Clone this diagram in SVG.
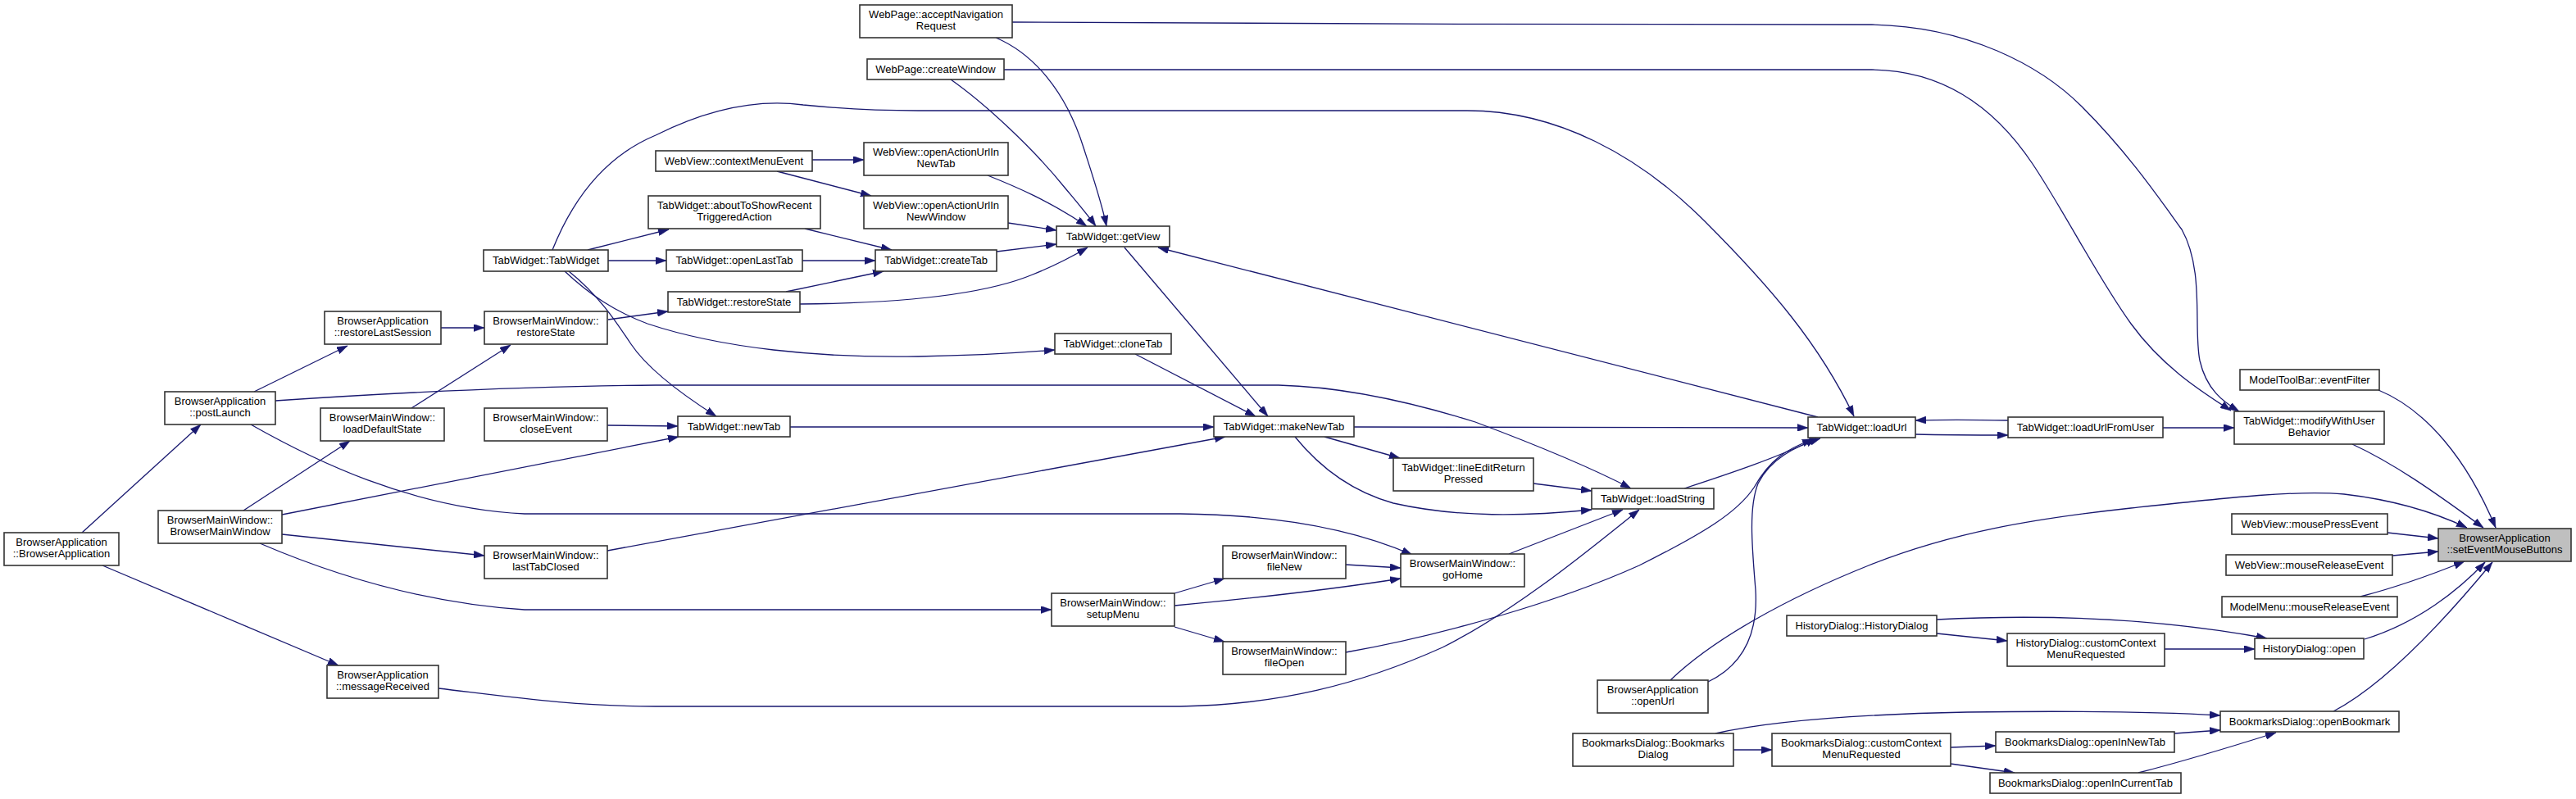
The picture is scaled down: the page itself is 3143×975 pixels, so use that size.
<svg xmlns="http://www.w3.org/2000/svg" width="3143" height="975" viewBox="0 0 3143 975">
<style>
.node rect{fill:#ffffff;stroke:#333333;stroke-width:1.6}
.node.root rect{fill:#bfbfbf}
.node text{font-family:"Liberation Sans",Arial,sans-serif;font-size:13px;fill:#000000;text-anchor:middle}
#edges path{fill:none;stroke:#191970;stroke-width:1.3;marker-end:url(#arr)}
</style>
<defs>
<marker id="arr" markerUnits="userSpaceOnUse" viewBox="0 0 13 9" markerWidth="13" markerHeight="9" refX="13" refY="4.5" orient="auto">
<path d="M0,0 L13,4.5 L0,9 z" fill="#191970" stroke="#191970" stroke-width="0.5"/>
</marker>
</defs>
<rect x="0" y="0" width="3143" height="975" fill="#ffffff"/>
<g id="edges">
<path d="M1235,27 C1400,29 2000,30 2284,30 C2400,32 2490,80 2540,130 C2600,190 2640,250 2662,280 C2690,330 2676,400 2684,440 C2692,475 2712,490 2732,502"/>
<path d="M1225,85 L2284,85 C2380,86 2440,140 2480,200 C2520,260 2560,340 2600,395 C2640,450 2690,480 2722,501"/>
<path d="M674,305 C700,240 740,190 800,165 C860,135 920,120 980,128 C1040,134 1080,135 1120,135 L1790,135 C1900,135 2000,190 2080,270 C2160,350 2220,420 2262,508"/>
<path d="M2218,509 L1413,302"/>
<path d="M1372,302 L1547,508"/>
<path d="M1385,432 L1532,508"/>
<path d="M1215,46 C1260,65 1300,110 1322,180 C1335,220 1345,250 1350,276"/>
<path d="M1160,97 C1200,125 1260,180 1300,230 C1315,248 1327,262 1337,276"/>
<path d="M1205,214 C1240,228 1280,245 1326,276"/>
<path d="M1230,272 L1289,281"/>
<path d="M1216,307 L1289,298"/>
<path d="M976,371 C1100,370 1200,360 1260,335 C1290,323 1310,312 1327,302"/>
<path d="M959,356 L1078,331"/>
<path d="M979,318 L1068,318"/>
<path d="M982,279 L1088,305"/>
<path d="M991,195 L1054,195"/>
<path d="M948,209 L1063,239"/>
<path d="M717,305 L816,280"/>
<path d="M742,318 L813,318"/>
<path d="M742,390 L815,380"/>
<path d="M689,331 C720,360 750,380 790,395 C880,425 1000,437 1120,435 C1180,434 1240,431 1287,427"/>
<path d="M694,331 C730,360 750,390 770,420 C790,450 830,480 874,508"/>
<path d="M538,400 L591,400"/>
<path d="M310,478 L424,422"/>
<path d="M502,498 L623,421"/>
<path d="M336,489 C500,478 650,471 800,470 L1560,470 C1640,472 1720,490 1800,515 C1880,545 1940,570 1990,596"/>
<path d="M306,518 C380,560 500,620 640,627 L1440,627 C1560,628 1650,645 1723,677"/>
<path d="M100,650 L245,518"/>
<path d="M125,690 L413,812"/>
<path d="M535,840 C620,850 700,862 800,862 L1440,862 C1560,860 1660,835 1760,790 C1850,745 1940,670 2000,622"/>
<path d="M297,623 L427,538"/>
<path d="M344,628 L828,533"/>
<path d="M344,652 L591,678"/>
<path d="M317,663 C380,690 500,735 640,744 L1283,744"/>
<path d="M741,519 L827,520"/>
<path d="M741,672 L1495,533"/>
<path d="M964,521 L1481,521"/>
<path d="M1652,521 L2206,522"/>
<path d="M1616,533 L1708,559"/>
<path d="M1580,533 C1610,570 1650,600 1700,614 C1780,632 1860,630 1942,622"/>
<path d="M1871,590 L1942,599"/>
<path d="M2055,596 C2110,578 2170,558 2216,535"/>
<path d="M1841,676 L1980,622"/>
<path d="M2084,832 C2130,810 2145,770 2142,720 C2138,670 2133,620 2145,590 C2160,560 2190,545 2221,535"/>
<path d="M1642,796 C1760,775 1900,735 2000,690 C2080,650 2120,625 2140,595 C2160,560 2180,548 2212,536"/>
<path d="M1433,724 L1494,706"/>
<path d="M1433,765 L1494,783"/>
<path d="M1433,739 C1530,730 1620,720 1709,706"/>
<path d="M1642,689 L1709,693"/>
<path d="M2038,830 C2090,780 2180,730 2280,690 C2380,650 2480,633 2600,620 C2720,607 2800,598 2860,603 C2920,610 2970,625 3010,644"/>
<path d="M2870,542 C2920,565 2970,600 3030,644"/>
<path d="M2902,476 C2960,500 3010,560 3045,644"/>
<path d="M2913,650 L2975,657"/>
<path d="M2919,678 L2975,673"/>
<path d="M2880,728 C2930,715 2970,700 3007,685"/>
<path d="M2885,780 C2950,760 3000,720 3032,686"/>
<path d="M2847,868 C2910,835 2980,760 3041,686"/>
<path d="M2363,773 L2449,782"/>
<path d="M2363,756 C2480,750 2620,752 2766,779"/>
<path d="M2641,792 L2751,792"/>
<path d="M2115,915 L2162,915"/>
<path d="M2093,895 C2150,882 2250,872 2400,869 C2550,867 2640,869 2709,873"/>
<path d="M2380,912 L2435,910"/>
<path d="M2380,932 L2458,943"/>
<path d="M2653,895 L2709,891"/>
<path d="M2609,943 C2660,930 2720,912 2777,894"/>
<path d="M2639,522 L2726,522"/>
<path d="M2450,513 C2400,512 2370,512 2337,513"/>
<path d="M2337,530 C2380,531 2410,531 2450,531"/>
</g>
<g id="n1" class="node"><rect x="1049" y="6" width="186" height="40"/><text x="1142" y="21.5">WebPage::acceptNavigation</text><text x="1142" y="36">Request</text></g>
<g id="n2" class="node"><rect x="1058" y="72" width="167" height="25"/><text x="1141.5" y="88.5">WebPage::createWindow</text></g>
<g id="n3" class="node"><rect x="800" y="184" width="191" height="25"/><text x="895.5" y="200.5">WebView::contextMenuEvent</text></g>
<g id="n4" class="node"><rect x="1054" y="174" width="176" height="40"/><text x="1142" y="189.5">WebView::openActionUrlIn</text><text x="1142" y="204">NewTab</text></g>
<g id="n5" class="node"><rect x="791" y="239" width="210" height="40"/><text x="896" y="254.5">TabWidget::aboutToShowRecent</text><text x="896" y="269">TriggeredAction</text></g>
<g id="n6" class="node"><rect x="1054" y="239" width="176" height="40"/><text x="1142" y="254.5">WebView::openActionUrlIn</text><text x="1142" y="269">NewWindow</text></g>
<g id="n7" class="node"><rect x="1289" y="276" width="138" height="25"/><text x="1358" y="292.5">TabWidget::getView</text></g>
<g id="n8" class="node"><rect x="590" y="305" width="152" height="26"/><text x="666" y="322">TabWidget::TabWidget</text></g>
<g id="n9" class="node"><rect x="813" y="305" width="166" height="26"/><text x="896" y="322">TabWidget::openLastTab</text></g>
<g id="n10" class="node"><rect x="1068" y="305" width="148" height="26"/><text x="1142" y="322">TabWidget::createTab</text></g>
<g id="n11" class="node"><rect x="396" y="380" width="142" height="40"/><text x="467" y="395.5">BrowserApplication</text><text x="467" y="410">::restoreLastSession</text></g>
<g id="n12" class="node"><rect x="591" y="380" width="150" height="40"/><text x="666" y="395.5">BrowserMainWindow::</text><text x="666" y="410">restoreState</text></g>
<g id="n13" class="node"><rect x="815" y="356" width="161" height="25"/><text x="895.5" y="372.5">TabWidget::restoreState</text></g>
<g id="n14" class="node"><rect x="1287" y="407" width="142" height="25"/><text x="1358" y="423.5">TabWidget::cloneTab</text></g>
<g id="n15" class="node"><rect x="2733" y="451" width="170" height="25"/><text x="2818" y="467.5">ModelToolBar::eventFilter</text></g>
<g id="n16" class="node"><rect x="201" y="478" width="135" height="40"/><text x="268.5" y="493.5">BrowserApplication</text><text x="268.5" y="508">::postLaunch</text></g>
<g id="n17" class="node"><rect x="391" y="498" width="151" height="40"/><text x="466.5" y="513.5">BrowserMainWindow::</text><text x="466.5" y="528">loadDefaultState</text></g>
<g id="n18" class="node"><rect x="591" y="498" width="150" height="40"/><text x="666" y="513.5">BrowserMainWindow::</text><text x="666" y="528">closeEvent</text></g>
<g id="n19" class="node"><rect x="827" y="508" width="137" height="25"/><text x="895.5" y="524.5">TabWidget::newTab</text></g>
<g id="n20" class="node"><rect x="1481" y="508" width="171" height="25"/><text x="1566.5" y="524.5">TabWidget::makeNewTab</text></g>
<g id="n21" class="node"><rect x="2206" y="509" width="131" height="25"/><text x="2271.5" y="525.5">TabWidget::loadUrl</text></g>
<g id="n22" class="node"><rect x="2450" y="509" width="189" height="25"/><text x="2544.5" y="525.5">TabWidget::loadUrlFromUser</text></g>
<g id="n23" class="node"><rect x="2726" y="502" width="183" height="40"/><text x="2817.5" y="517.5">TabWidget::modifyWithUser</text><text x="2817.5" y="532">Behavior</text></g>
<g id="n24" class="node"><rect x="1700" y="559" width="171" height="40"/><text x="1785.5" y="574.5">TabWidget::lineEditReturn</text><text x="1785.5" y="589">Pressed</text></g>
<g id="n25" class="node"><rect x="1942" y="596" width="149" height="25"/><text x="2016.5" y="612.5">TabWidget::loadString</text></g>
<g id="n26" class="node"><rect x="193" y="623" width="151" height="40"/><text x="268.5" y="638.5">BrowserMainWindow::</text><text x="268.5" y="653">BrowserMainWindow</text></g>
<g id="n27" class="node"><rect x="2723" y="627" width="190" height="25"/><text x="2818" y="643.5">WebView::mousePressEvent</text></g>
<g id="n28" class="node root"><rect x="2975" y="645" width="162" height="40"/><text x="3056" y="660.5">BrowserApplication</text><text x="3056" y="675">::setEventMouseButtons</text></g>
<g id="n29" class="node"><rect x="5" y="650" width="140" height="40"/><text x="75" y="665.5">BrowserApplication</text><text x="75" y="680">::BrowserApplication</text></g>
<g id="n30" class="node"><rect x="591" y="666" width="150" height="40"/><text x="666" y="681.5">BrowserMainWindow::</text><text x="666" y="696">lastTabClosed</text></g>
<g id="n31" class="node"><rect x="1492" y="666" width="150" height="40"/><text x="1567" y="681.5">BrowserMainWindow::</text><text x="1567" y="696">fileNew</text></g>
<g id="n32" class="node"><rect x="1709" y="676" width="151" height="40"/><text x="1784.5" y="691.5">BrowserMainWindow::</text><text x="1784.5" y="706">goHome</text></g>
<g id="n33" class="node"><rect x="2716" y="677" width="203" height="25"/><text x="2817.5" y="693.5">WebView::mouseReleaseEvent</text></g>
<g id="n34" class="node"><rect x="1283" y="724" width="150" height="40"/><text x="1358" y="739.5">BrowserMainWindow::</text><text x="1358" y="754">setupMenu</text></g>
<g id="n35" class="node"><rect x="2711" y="728" width="214" height="25"/><text x="2818" y="744.5">ModelMenu::mouseReleaseEvent</text></g>
<g id="n36" class="node"><rect x="2180" y="751" width="183" height="25"/><text x="2271.5" y="767.5">HistoryDialog::HistoryDialog</text></g>
<g id="n37" class="node"><rect x="2449" y="773" width="192" height="40"/><text x="2545" y="788.5">HistoryDialog::customContext</text><text x="2545" y="803">MenuRequested</text></g>
<g id="n38" class="node"><rect x="2751" y="779" width="133" height="25"/><text x="2817.5" y="795.5">HistoryDialog::open</text></g>
<g id="n39" class="node"><rect x="1492" y="783" width="150" height="40"/><text x="1567" y="798.5">BrowserMainWindow::</text><text x="1567" y="813">fileOpen</text></g>
<g id="n40" class="node"><rect x="399" y="812" width="136" height="40"/><text x="467" y="827.5">BrowserApplication</text><text x="467" y="842">::messageReceived</text></g>
<g id="n41" class="node"><rect x="1949" y="830" width="135" height="40"/><text x="2016.5" y="845.5">BrowserApplication</text><text x="2016.5" y="860">::openUrl</text></g>
<g id="n42" class="node"><rect x="2709" y="868" width="218" height="25"/><text x="2818" y="884.5">BookmarksDialog::openBookmark</text></g>
<g id="n43" class="node"><rect x="1919" y="895" width="196" height="40"/><text x="2017" y="910.5">BookmarksDialog::Bookmarks</text><text x="2017" y="925">Dialog</text></g>
<g id="n44" class="node"><rect x="2162" y="895" width="218" height="40"/><text x="2271" y="910.5">BookmarksDialog::customContext</text><text x="2271" y="925">MenuRequested</text></g>
<g id="n45" class="node"><rect x="2435" y="893" width="218" height="25"/><text x="2544" y="909.5">BookmarksDialog::openInNewTab</text></g>
<g id="n46" class="node"><rect x="2428" y="943" width="233" height="25"/><text x="2544.5" y="959.5">BookmarksDialog::openInCurrentTab</text></g>
</svg>
